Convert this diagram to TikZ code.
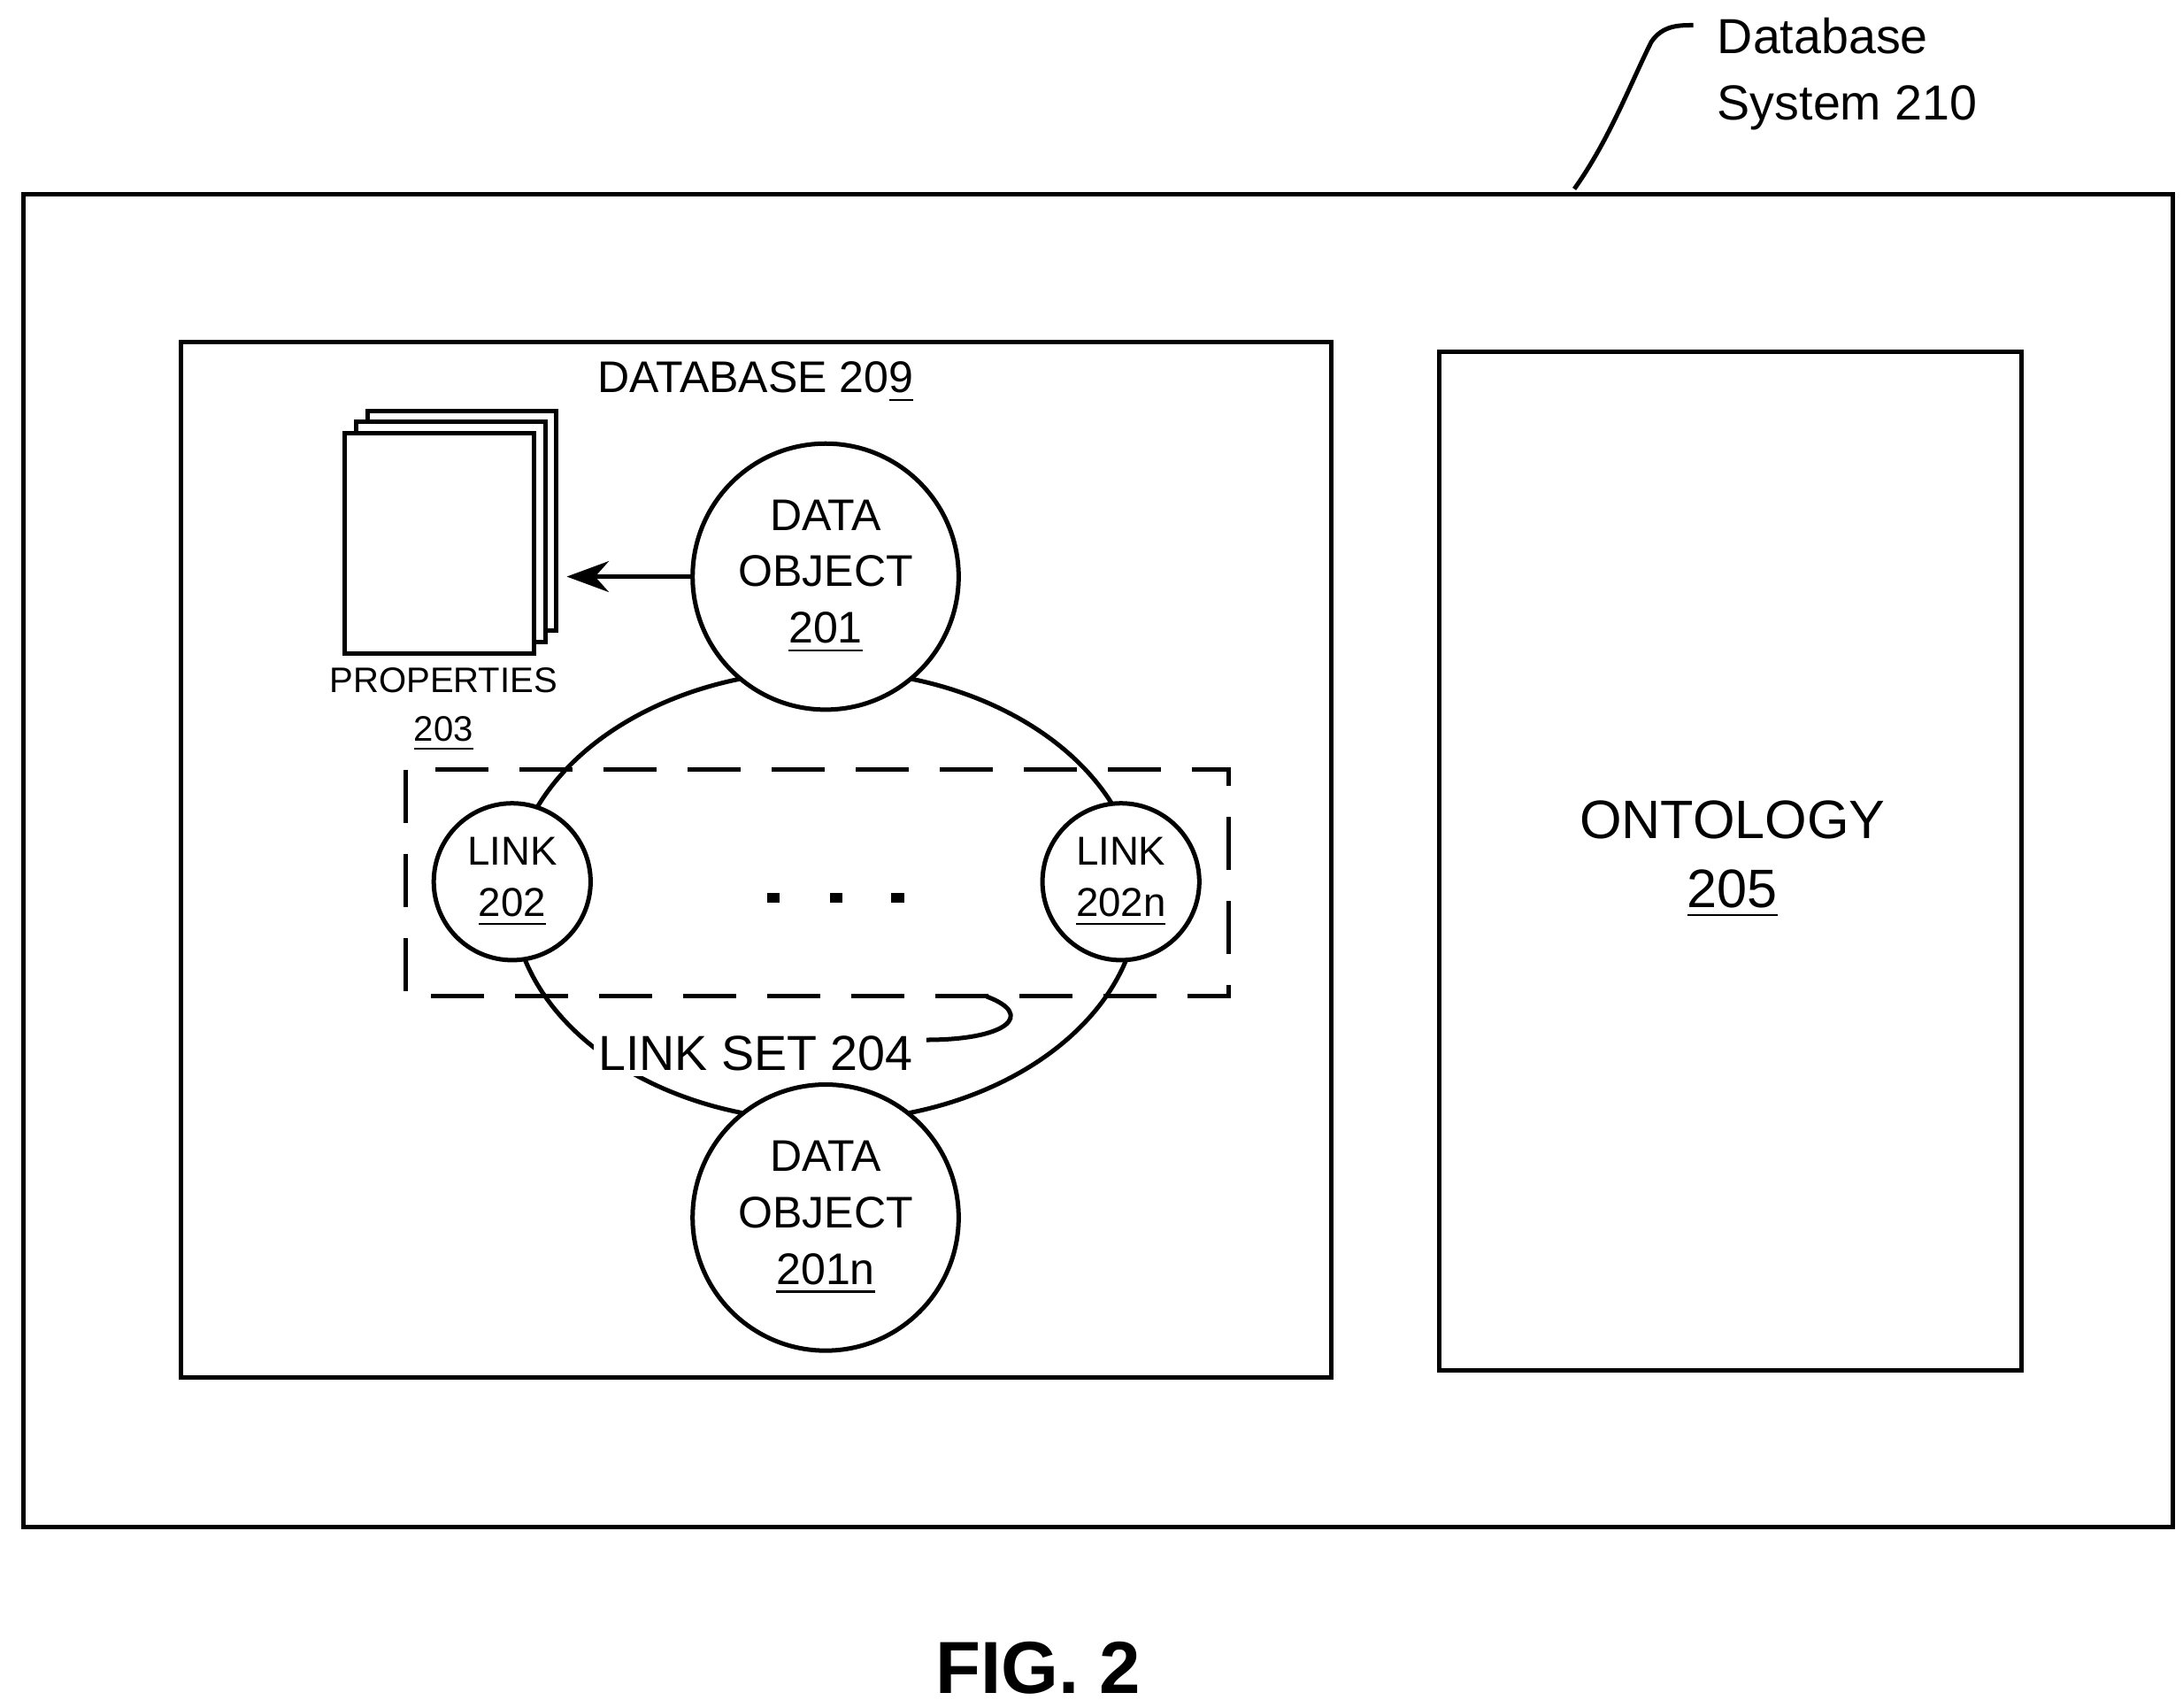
\documentclass[tikz,border=0pt]{standalone}
\usepackage{fontspec}
\setmainfont{Liberation Sans}
\usetikzlibrary{arrows.meta}

\begin{document}
\begin{tikzpicture}[x=0.01cm,y=-0.01cm,line width=0.9pt]
\tikzstyle{box}=[draw,rectangle,anchor=north west,inner sep=0pt]
\tikzstyle{obj}=[draw,circle,minimum size=1.9cm,inner sep=0pt,align=center,font=\fontsize{9}{11.5}\selectfont]
\tikzstyle{lnk}=[draw,circle,minimum size=1.12cm,inner sep=0pt,align=center,font=\fontsize{8.2}{10.5}\selectfont]
\tikzstyle{page}=[draw,fill=white,rectangle,anchor=north west,minimum width=1.35cm,minimum height=1.57cm]
\useasboundingbox (0,0) rectangle (1560,1220);
\node [box,minimum width=15.35cm,minimum height=9.52cm] (sys) at (15,137) {};
\node [box,minimum width=8.21cm,minimum height=7.39cm] (db) at (128,243) {};
\node [box,minimum width=4.16cm,minimum height=7.27cm] (onto) at (1027,250) {};
\node [align=center,font=\fontsize{11}{14}\selectfont] (ontotxt) at (1238,614) {ONTOLOGY\\\underline{205}};
\node [align=left,anchor=west,font=\fontsize{10}{13.5}\selectfont] (systxt) at (1214,53) {Database\\System 210};
\draw (1125,135) .. controls (1150,100) and (1165,60) .. (1180,30) .. controls (1188,18) and (1200,18) .. (1210,18);
\node [font=\fontsize{9}{12}\selectfont] (dbtxt) at (540,273) {DATABASE 20\underline{9}};
% link set
\draw (590,640) ellipse (224 and 161);
\draw [dash pattern=on 0.38cm off 0.22cm] (290,550) rectangle (878,712);
\node [obj,fill=white] (o1) at (590,412) {DATA\\OBJECT\\\underline{201}};
\node [obj,fill=white] (o2) at (590,870) {DATA\\OBJECT\\\underline{201n}};
\node [lnk,fill=white] (l1) at (366,630) {LINK\\\underline{202}};
\node [lnk,fill=white] (l2) at (801,630) {LINK\\\underline{202n}};
\foreach \x in {548,593,637} \fill (\x,645) rectangle ++(9,-7);
\draw (662,743) .. controls (720,743) and (740,725) .. (705,712);
\node [fill=white,inner sep=1pt,font=\fontsize{10}{13}\selectfont] (lstxt) at (540,753) {LINK SET 204};
% properties
\node [page] (p3) at (261,292) {};
\node [page] (p2) at (253,300) {};
\node [page] (p1) at (245,308) {};
\draw [-{Stealth[length=0.3cm,width=0.22cm]}] (o1.west) -- (405,412);
\node [align=center,font=\fontsize{7.2}{10}\selectfont] (proptxt) at (317,507) {PROPERTIES\\\underline{203}};
\node [font=\bfseries\fontsize{15}{18}\selectfont] (fig) at (742,1192) {FIG. 2};
\end{tikzpicture}
\end{document}
